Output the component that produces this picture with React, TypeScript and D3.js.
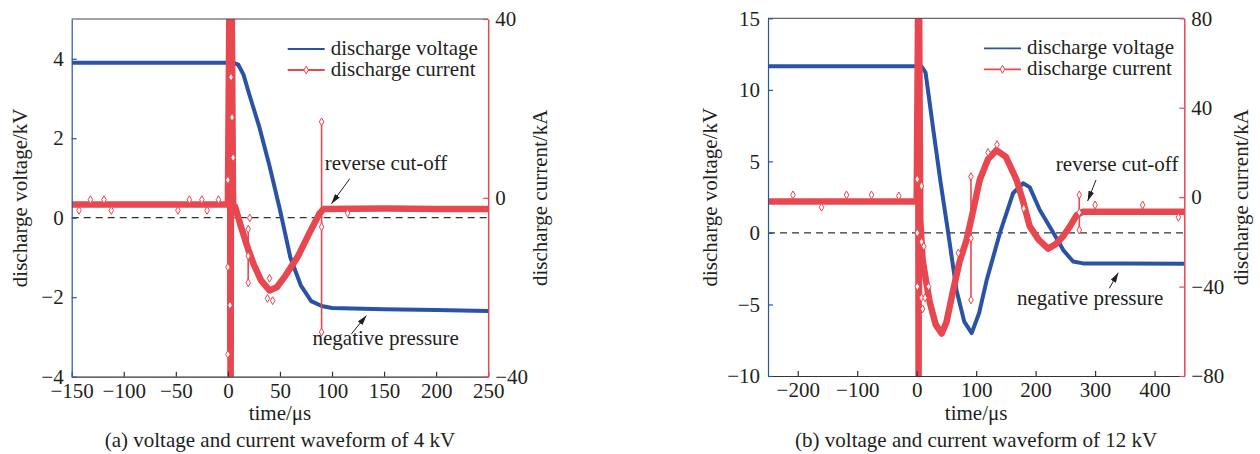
import React, { useEffect, useRef } from 'react';
import * as d3 from 'd3';

const BLUE = '#2a53a6';
const RED = '#e8474f';
const INK = '#231f20';
const FONT = '"Liberation Serif", "Times New Roman", serif';

// ---- (a) 4 kV ----
const timeA_V = [-150, 5, 10, 15, 20, 30, 40, 50, 60, 70, 80, 90, 100, 150, 200, 250];
const voltA = [3.9, 3.9, 3.85, 3.6, 3.15, 2.3, 1.3, 0.2, -1.0, -1.7, -2.1, -2.22, -2.27, -2.3, -2.32, -2.35];
const timeA_I = [-150, 0, 2, 2.6, 3.2, 5, 7, 12, 19.5, 25, 32, 40, 47, 55, 67, 78, 88, 92, 150, 200, 250];
const currA = [-1.5, -1.5, 60, -60, 60, -3, -2, -6, -11.5, -15, -18.5, -20.7, -20, -17.5, -13.2, -8, -3.5, -2.5, -2.4, -2.5, -2.5];
// short glitches: time, top, bottom (kA)
const spikesA = [
    { t: 0, hi: 4, lo: -35 },
    { t: 19.5, hi: -7, lo: -19 },
    { t: 90, hi: 17, lo: -30 },
];
const markersA = [
    [-143, -2.8], [-132, -0.4], [-119, -0.4], [-112, -2.8], [-48, -2.8],
    [-37, -0.4], [-25, -0.4], [-20, -2.8], [-9, -0.4], [115, -3.4],
    [3, 27], [4, 18], [5, 9], [2, -24], [21, -4.5], [38, -22.5], [43, -23], [40, -18],
];

// ---- (b) 12 kV ----
const timeB_V = [-250, 8, 15, 28, 40, 53, 67, 80, 92.5, 105, 117.7, 140, 162, 179, 190, 207, 230, 246.5, 263, 280, 350, 450];
const voltB = [11.65, 11.65, 11.2, 7.2, 3.6, 0, -4.0, -6.2, -7.0, -5.6, -3.3, 0, 2.77, 3.47, 3.2, 1.6, 0, -1.2, -2.0, -2.13, -2.13, -2.15];
const timeB_I = [-250, 0, 2.5, 3.2, 4, 6, 10, 16, 22, 32, 42, 50, 61, 72, 84, 95, 106, 120, 134, 150, 168, 179, 190, 205, 221, 234, 246, 258, 269, 280, 350, 450];
const currB = [-2, -2, 90, -90, 90, -10, -28, -38, -47, -57, -61, -56, -42, -29, -19, -6, 7.7, 17, 21, 18, 7.7, -2, -13, -19, -23, -21, -17.6, -13, -8, -6.5, -6.5, -6.5];
const spikesB = [
    { t: 1, hi: 8, lo: -40 },
    { t: 8, hi: 5, lo: -45 },
    { t: 91.3, hi: 9.2, lo: -46 },
    { t: 273.4, hi: 1, lo: -14.7 },
];
const markersB = [
    [-208, 1], [-118, 1], [-76, 1], [-160, -4.5], [-30, 0.5], [300, -3.5], [380, -3.5], [440, -9],
    [12, -22], [14, -45], [10, -50], [20, -40], [135, 23.5], [180, -5], [120, 20], [70, -25],
];

const panels = [
    {
        id: 'a',
        box: { x0: 71.7, x1: 488.2, y0: 19, y1: 376.7 },
        xDomain: [-150, 250], xTicks: d3.range(-150, 251, 50),
        vDomain: [-4, 5], vTicks: [-4, -2, 0, 2, 4],
        iDomain: [-40, 40], iTicks: [-40, 0, 40],
        timeV: timeA_V, volt: voltA, timeI: timeA_I, curr: currA,
        spikes: spikesA, markers: markersA,
        yLabelL: 20, yLabelR: 540,
        cutoff: { tx: 93, ty: 1.19, a: [117, 0.98, 99.5, 0.35] },
        negative: { tx: 81.3, ty: -3.21, a: [118.7, -2.92, 133.1, -2.46] },
        caption: '(a) voltage and current waveform of 4 kV',
    },
    {
        id: 'b',
        box: { x0: 768, x1: 1184.3, y0: 18.3, y1: 376 },
        xDomain: [-250, 450], xTicks: d3.range(-200, 401, 100),
        vDomain: [-10, 15], vTicks: [-10, -5, 0, 5, 10, 15],
        iDomain: [-80, 80], iTicks: [-80, -40, 0, 40, 80],
        timeV: timeB_V, volt: voltB, timeI: timeB_I, curr: currB,
        spikes: spikesB, markers: markersB,
        yLabelL: 710, yLabelR: 1241,
        cutoff: { tx: 234, ty: 4.33, a: [301.5, 3.7, 287.5, 2.23] },
        negative: { tx: 168.7, ty: -5.04, a: [323.9, -3.87, 339, -2.78] },
        caption: '(b) voltage and current waveform of 12 kV',
    },
];

const diamond = d3.symbol().type(d3.symbolDiamond).size(18);

function drawPanel(svg, p) {
    const { x0, x1, y0, y1 } = p.box;
    const x = d3.scaleLinear().domain(p.xDomain).range([x0, x1]);
    const yV = d3.scaleLinear().domain(p.vDomain).range([y1, y0]);
    const yI = d3.scaleLinear().domain(p.iDomain).range([y1, y0]);

    svg.append('clipPath').attr('id', 'clip-' + p.id)
        .append('rect').attr('x', x0).attr('y', y0).attr('width', x1 - x0).attr('height', y1 - y0);

    const g = svg.append('g');
    const plot = g.append('g').attr('clip-path', `url(#clip-${p.id})`);

    // zero line
    plot.append('line')
        .attr('x1', x0).attr('x2', x1).attr('y1', yV(0)).attr('y2', yV(0))
        .attr('stroke', '#333').attr('stroke-width', 1.2).attr('stroke-dasharray', '7,5');

    // voltage
    const vData = p.timeV.map((t, i) => [t, p.volt[i]]);
    plot.append('path').datum(vData)
        .attr('d', d3.line().x(d => x(d[0])).y(d => yV(d[1])))
        .attr('fill', 'none').attr('stroke', BLUE).attr('stroke-width', 4)
        .attr('stroke-linejoin', 'round');

    // current
    const iData = p.timeI.map((t, i) => [t, p.curr[i]]);
    plot.append('path').datum(iData)
        .attr('d', d3.line().x(d => x(d[0])).y(d => yI(d[1])))
        .attr('fill', 'none').attr('stroke', RED).attr('stroke-width', 6.5)
        .attr('stroke-linejoin', 'round');

    plot.selectAll('line.spike').data(p.spikes).join('line')
        .attr('class', 'spike')
        .attr('x1', d => x(d.t)).attr('x2', d => x(d.t))
        .attr('y1', d => yI(d.hi)).attr('y2', d => yI(d.lo))
        .attr('stroke', RED).attr('stroke-width', 1.6);

    const pts = [
        ...p.spikes.flatMap(s => [[s.t, s.hi], [s.t, s.lo], [s.t, (s.hi + s.lo) / 2]]),
        ...p.markers,
    ];
    plot.selectAll('path.mk').data(pts).join('path')
        .attr('class', 'mk')
        .attr('d', diamond)
        .attr('transform', d => `translate(${x(d[0])},${yI(d[1])})`)
        .attr('fill', 'white').attr('stroke', RED).attr('stroke-width', 1);

    // frame
    g.append('line').attr('x1', x0).attr('x2', x1).attr('y1', y0).attr('y2', y0)
        .attr('stroke', '#444').attr('stroke-width', 1);

    const styleAxis = (ax, color) => {
        ax.select('.domain').attr('stroke', color).attr('stroke-width', 1.2);
        ax.selectAll('.tick line').attr('stroke', color).attr('stroke-width', 1.2);
        ax.selectAll('.tick text').attr('fill', INK).style('font-family', FONT).style('font-size', '21px');
    };

    const xa = g.append('g').attr('transform', `translate(0,${y1})`)
        .call(d3.axisBottom(x).tickValues(p.xTicks).tickSizeInner(-5).tickSizeOuter(0).tickPadding(6));
    styleAxis(xa, '#333');

    const la = g.append('g').attr('transform', `translate(${x0},0)`)
        .call(d3.axisLeft(yV).tickValues(p.vTicks).tickSizeInner(-5).tickSizeOuter(0).tickPadding(8));
    styleAxis(la, BLUE);

    const ra = g.append('g').attr('transform', `translate(${x1},0)`)
        .call(d3.axisRight(yI).tickValues(p.iTicks).tickSizeInner(-5).tickSizeOuter(0).tickPadding(7));
    styleAxis(ra, RED);
    ra.select('.domain').attr('stroke-width', 1.5);

    const text = (sel) => sel.attr('fill', INK).style('font-family', FONT).style('font-size', '21px');

    const cx = (x0 + x1) / 2;
    const cy = (y0 + y1) / 2;
    g.append('text').attr('x', cx).attr('y', 420).attr('text-anchor', 'middle').text('time/μs').call(text);
    g.append('text').attr('x', cx).attr('y', 447).attr('text-anchor', 'middle').text(p.caption).call(text);
    g.append('text').attr('transform', `translate(${p.yLabelL},${cy}) rotate(-90)`)
        .attr('text-anchor', 'middle').attr('dy', '0.35em').text('discharge voltage/kV').call(text);
    g.append('text').attr('transform', `translate(${p.yLabelR},${cy}) rotate(-90)`)
        .attr('text-anchor', 'middle').attr('dy', '0.35em').text('discharge current/kA').call(text);

    // legend
    const lx = x0 + 216;
    const ly = y0 + 30;
    const leg = g.append('g');
    leg.append('line').attr('x1', lx).attr('x2', lx + 37).attr('y1', ly).attr('y2', ly)
        .attr('stroke', BLUE).attr('stroke-width', 1.8);
    leg.append('text').attr('x', lx + 43).attr('y', ly + 6).text('discharge voltage').call(text);
    leg.append('line').attr('x1', lx).attr('x2', lx + 37).attr('y1', ly + 21).attr('y2', ly + 21)
        .attr('stroke', RED).attr('stroke-width', 1.8);
    leg.append('path').attr('d', diamond).attr('transform', `translate(${lx + 18.5},${ly + 21})`)
        .attr('fill', 'white').attr('stroke', RED).attr('stroke-width', 1);
    leg.append('text').attr('x', lx + 43).attr('y', ly + 27).text('discharge current').call(text);

    // annotations
    [[p.cutoff, 'reverse cut-off'], [p.negative, 'negative pressure']].forEach(([a, label]) => {
        g.append('text').attr('x', x(a.tx)).attr('y', yV(a.ty)).text(label).call(text);
        g.append('line')
            .attr('x1', x(a.a[0])).attr('y1', yV(a.a[1]))
            .attr('x2', x(a.a[2])).attr('y2', yV(a.a[3]))
            .attr('stroke', INK).attr('stroke-width', 1)
            .attr('marker-end', 'url(#arrow)');
    });
}

const App = () => {
    const svgRef = useRef();

    useEffect(() => {
        const svg = d3.select(svgRef.current);
        svg.selectAll('*').remove();

        svg.append('defs').append('marker')
            .attr('id', 'arrow')
            .attr('viewBox', '0 0 10 6')
            .attr('refX', 10).attr('refY', 3)
            .attr('markerWidth', 10).attr('markerHeight', 6)
            .attr('markerUnits', 'userSpaceOnUse')
            .attr('orient', 'auto')
            .append('path').attr('d', 'M0,0 L10,3 L0,6 Z').attr('fill', INK);

        panels.forEach(p => drawPanel(svg, p));
    }, []);

    return (
        <svg
            ref={svgRef}
            width={1260}
            height={454}
            style={{ position: 'absolute', left: 0, top: 0, background: 'white' }}
        />
    );
};

export default App;
